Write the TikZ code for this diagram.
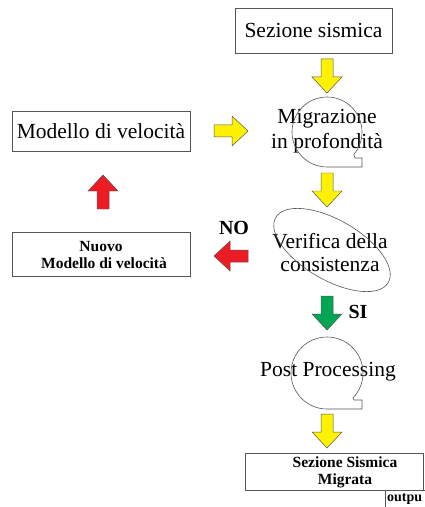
\documentclass[tikz,border=0pt]{standalone}
\usepackage{fontspec}
\setmainfont{Liberation Serif}
\usepackage{tikz}
\usetikzlibrary{positioning}

\definecolor{freccia}{HTML}{FFF200}
\definecolor{rosso}{HTML}{ED1C24}
\definecolor{verde}{HTML}{00A651}
\definecolor{bordo}{HTML}{555555}

\begin{document}
\begin{tikzpicture}[x=1bp, y=-1bp,
    big/.style={font=\fontsize{21.5bp}{25bp}\selectfont, align=center, inner sep=0pt},
    small/.style={font=\bfseries\fontsize{15.5bp}{17bp}\selectfont, align=center, inner sep=0pt},
    box/.style={draw=bordo, line width=0.8pt, inner sep=0pt},
    loop/.style={draw=bordo, line width=0.6pt},
    barrow/.pic={\draw[pic actions] (-17,-6) -- (1,-6) -- (1,-15) -- (17,0) -- (1,15) -- (1,6) -- (-17,6) -- cycle;},
    blk/.style={draw=bordo, line width=0.5pt}]
      \useasboundingbox (0,0) rectangle (424,507);

      % boxes
      \node[box, minimum width=157bp, minimum height=45bp] (sez) at (313.5,30.5) {};
      \node[big] (sezt) at (sez.center) {Sezione sismica};
      \node[box, minimum width=178bp, minimum height=40bp] (mod) at (101,131.5) {};
      \node[big] (modt) at (mod.center) {Modello di velocità};
      \node[box, minimum width=178bp, minimum height=44bp] (nuovo) at (101,254) {};
      \node[small] (nuovot) at (101,255) {Nuovo\\\hspace*{6bp}Modello di velocità};
      \node[box, minimum width=178bp, minimum height=37bp] (mig) at (334,471.5) {};
      \node[small] (migt) at (345,472) {Sezione Sismica\\Migrata};
      \draw[bordo, line width=0.8pt] (385,515) -- (385,490) -- (430,490);
      \node[font=\bfseries\fontsize{14bp}{16bp}\selectfont, anchor=west, inner sep=0pt] (outp) at (387,499) {outpu};

      % processi
      \coordinate (c1) at (327,132);
      \coordinate (c2) at (332,250);
      \coordinate (c3) at (327,373);
      \node[big] (migr) at (327,131) {Migrazione\\in profondità};
      \node[big, font=\fontsize{21.5bp}{23bp}\selectfont] (ver) at (330,253) {Verifica della\\consistenza};
      \node[big] (post) at (328,372) {Post Processing};
      \draw[loop] ([shift={(90:35)}]c1) arc[start angle=90, end angle=400, radius=35] -- (355,158) -- (362,158) -- (362,167) -- cycle;
      \draw[loop, rotate around={-30:(c2)}] (c2) ellipse[x radius=65, y radius=30];
      \draw[loop] ([shift={(90:36)}]c3) arc[start angle=90, end angle=404, radius=36] -- (354,400) -- (362,400) -- (362,409) -- cycle;

      % frecce
      \pic[blk, fill=freccia, rotate=-90] (f1) at (327,76) {barrow};
      \pic[blk, fill=freccia] (f2) at (231,131) {barrow};
      \pic[blk, fill=freccia, rotate=-90] (f3) at (327,190) {barrow};
      \pic[blk, fill=rosso, rotate=90] (f4) at (103,192) {barrow};
      \pic[blk, fill=rosso, rotate=180] (f5) at (231,256) {barrow};
      \pic[blk, fill=verde, rotate=-90] (f6) at (327,313) {barrow};
      \pic[blk, fill=freccia, rotate=-90] (f7) at (327,431) {barrow};

      \node[font=\bfseries\fontsize{20bp}{22bp}\selectfont, inner sep=0pt] (no) at (234,228) {NO};
      \node[font=\bfseries\fontsize{20bp}{22bp}\selectfont, inner sep=0pt] (si) at (358,312) {SI};
    \end{tikzpicture}
\end{document}
